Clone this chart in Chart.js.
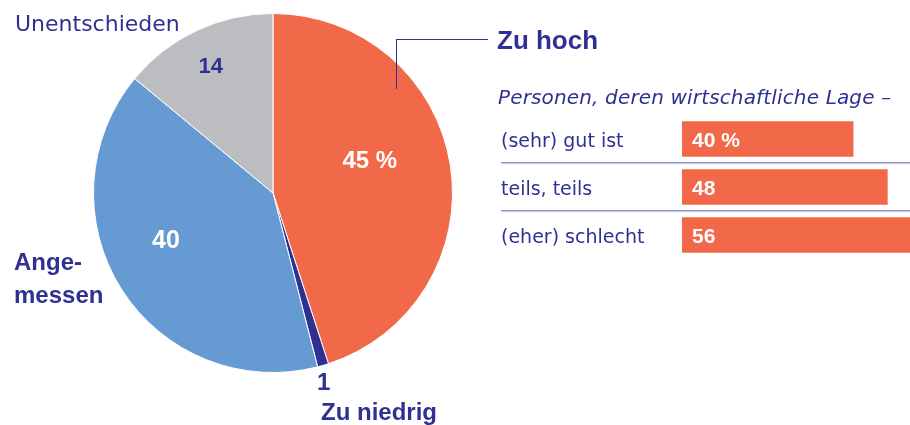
<!DOCTYPE html>
<html>
<head>
<meta charset="utf-8">
<script src="https://cdn.jsdelivr.net/npm/chart.js@4"></script>
<style>
  body { margin: 0; background: #fff; }
  #wrap { position: relative; width: 910px; height: 425px; overflow: hidden; font-family: "DejaVu Sans", sans-serif; color: #2E3192; }
  #pieBox { position: absolute; left: 0; top: 0; width: 546px; height: 386px; }
  #barBox { position: absolute; left: 501px; top: 95px; width: 409px; height: 184px; }
  .lbl { position: absolute; white-space: nowrap; line-height: 1; }
  .b { font-family: "Liberation Sans", Arial, sans-serif; font-weight: bold; }
  #leader { position: absolute; left: 396px; top: 39px; width: 91px; height: 49px; border-left: 1px solid #2E3192; border-top: 1px solid #2E3192; }
</style>
</head>
<body>
<div id="wrap">
  <div id="pieBox"><canvas id="pieChart"></canvas></div>
  <div id="barBox"><canvas id="barChart"></canvas></div>
  <div id="leader"></div>
  <div class="lbl" style="left:15px;top:13px;font-size:22px;">Unentschieden</div>
  <div class="lbl b" style="left:198.5px;top:54.5px;font-size:22px;">14</div>
  <div class="lbl b" style="left:342.5px;top:147.5px;font-size:24px;color:#fff;">45 %</div>
  <div class="lbl b" style="left:152px;top:227px;font-size:25px;color:#fff;">40</div>
  <div class="lbl b" style="left:14px;top:245px;font-size:24px;line-height:33px;">Ange-<br>messen</div>
  <div class="lbl b" style="left:317px;top:369.5px;font-size:24px;">1</div>
  <div class="lbl b" style="left:321px;top:399.5px;font-size:24px;">Zu niedrig</div>
  <div class="lbl b" style="left:497px;top:26.5px;font-size:26px;">Zu hoch</div>
  <div class="lbl" style="left:498px;top:87px;font-size:20px;font-style:italic;letter-spacing:0.15px;">Personen, deren wirtschaftliche Lage –</div>
</div>
<script>
const pieLabels = ['Zu hoch', 'Zu niedrig', 'Angemessen', 'Unentschieden'];
const pieValues = [45, 1, 40, 14];
const pieColors = ['#F2694A', '#2E3192', '#659AD2', '#BCBDC1'];

const barLabels = ['(sehr) gut ist', 'teils, teils', '(eher) schlecht'];
const barValues = [40, 48, 56];
const barValueText = ['40 %', '48', '56'];

const navy = '#2E3192';

new Chart(document.getElementById('pieChart'), {
    type: 'pie',
    data: {
        labels: pieLabels,
        datasets: [{
            data: pieValues,
            backgroundColor: pieColors,
            borderColor: '#fff',
            borderWidth: 1
        }]
    },
    options: {
        responsive: true,
        maintainAspectRatio: false,
        animation: false,
        layout: { padding: 13 },
        plugins: { legend: { display: false }, tooltip: { enabled: false } }
    }
});

// white numbers inside the bars
const barText = {
    id: 'barText',
    afterDatasetsDraw(chart) {
        const {ctx} = chart;
        ctx.save();
        ctx.font = 'bold 21px "Liberation Sans", Arial, sans-serif';
        ctx.fillStyle = '#fff';
        ctx.textAlign = 'left';
        ctx.textBaseline = 'alphabetic';
        chart.getDatasetMeta(0).data.forEach((bar, i) => {
            ctx.fillText(barValueText[i], bar.base + 10, bar.y + 7.5);
        });
        ctx.restore();
    }
}

// only the lines between the rows, not above the first or below the last
const sepColor = (c) => (typeof c.index !== 'number' || c.index === 0 || c.index >= barLabels.length) ? 'rgba(0,0,0,0)' : '#9193C8';

new Chart(document.getElementById('barChart'), {
    type: 'bar',
    data: {
        labels: barLabels,
        datasets: [{
            data: barValues,
            backgroundColor: '#F2694A',
            barThickness: 35
        }]
    },
    plugins: [barText],
    options: {
        indexAxis: 'y',
        responsive: true,
        maintainAspectRatio: false,
        animation: false,
        layout: { padding: { top: 20, bottom: 20, left: 0, right: 0 } },
        plugins: { legend: { display: false }, tooltip: { enabled: false } },
        scales: {
            x: { display: false, min: 0, max: 53.3 },
            y: {
                afterFit(scale) { scale.width = 181; },
                border: { display: false },
                grid: {
                    offset: true,
                    color: sepColor,
                    tickColor: sepColor,
                    lineWidth: 1.5,
                    tickLength: 181
                },
                ticks: {
                    crossAlign: 'far',
                    labelOffset: 3,
                    color: navy,
                    font: { family: '"DejaVu Sans", sans-serif', size: 19 }
                }
            }
        }
    }
});
</script>
</body>
</html>
